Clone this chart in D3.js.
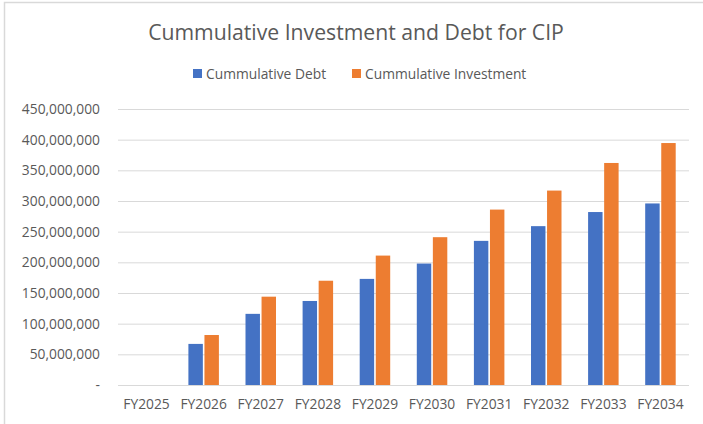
<!DOCTYPE html>
<html>
<head>
<meta charset="utf-8">
<script src="https://cdn.jsdelivr.net/npm/d3@7"></script>
<style>
  body { margin: 0; background: #fff; }
  text { font-family: "Open Sans", "Noto Sans", sans-serif; fill: #595959; }
</style>
</head>
<body>
<div id="container"></div>
<script>
const years = ["FY2025", "FY2026", "FY2027", "FY2028", "FY2029", "FY2030", "FY2031", "FY2032", "FY2033", "FY2034"];
const debt = [0, 67000000, 116000000, 137000000, 173000000, 198000000, 235000000, 259000000, 282000000, 296000000];
const investment = [0, 81500000, 144000000, 170000000, 211000000, 241000000, 286000000, 317000000, 362000000, 394500000];
const seriesNames = ["Cummulative Debt", "Cummulative Investment"];
const colors = ["#4472c4", "#ed7d31"];
const yTicks = [0, 50000000, 100000000, 150000000, 200000000, 250000000, 300000000, 350000000, 400000000, 450000000];

const W = 703, H = 424;
const plotLeft = 118, plotRight = 689, plotTop = 109, plotBottom = 385;

const svg = d3.select("#container").append("svg")
  .attr("width", W)
  .attr("height", H);

// chart border
svg.append("rect")
  .attr("x", 4.5).attr("y", 2.5)
  .attr("width", W + 10).attr("height", H + 10)
  .attr("fill", "none")
  .attr("stroke", "#d9d9d9")
  .attr("stroke-width", 1.5);

svg.append("text")
  .attr("x", 356).attr("y", 39.5)
  .attr("text-anchor", "middle")
  .style("font-size", "21.2px")
  .text("Cummulative Investment and Debt for CIP");

const x = d3.scaleBand().domain(years).range([plotLeft, plotRight]);
const x1 = d3.scaleBand().domain([0, 1]).range([0, 30.5]).paddingInner(0.1);
const y = d3.scaleLinear().domain([0, 450000000]).range([plotBottom, plotTop]);

// grid
svg.append("g")
  .attr("transform", `translate(${plotLeft},0)`)
  .call(d3.axisLeft(y).tickValues(yTicks).tickSize(-(plotRight - plotLeft)).tickFormat(""))
  .call(g => g.select(".domain").remove())
  .call(g => g.selectAll("line").attr("stroke", "#d9d9d9").attr("stroke-width", 1));

// y labels
svg.append("g")
  .attr("transform", `translate(${plotLeft - 18},0)`)
  .call(d3.axisLeft(y).tickValues(yTicks).tickSize(0).tickPadding(0)
    .tickFormat(d => d === 0 ? "-" : d3.format(",")(d)))
  .call(g => g.select(".domain").remove())
  .call(g => g.selectAll("text").style("font-size", "13.8px").attr("fill", "#595959"));

// x labels
svg.append("g")
  .attr("transform", `translate(0,${plotBottom})`)
  .call(d3.axisBottom(x).tickSize(0))
  .call(g => g.select(".domain").remove())
  .call(g => g.selectAll("text").style("font-size", "13.8px").attr("fill", "#595959").attr("dy", "1.55em"));

const groups = svg.append("g").selectAll("g")
  .data(years)
  .enter().append("g")
  .attr("transform", d => `translate(${x(d) + x.bandwidth() / 2 - 15.25},0)`);

[debt, investment].forEach((vals, s) => {
  groups.append("rect")
    .attr("x", x1(s))
    .attr("width", x1.bandwidth())
    .attr("y", (d, i) => y(vals[i]))
    .attr("height", (d, i) => plotBottom - y(vals[i]))
    .attr("fill", colors[s]);
});

// legend
const legendX = [193, 352];
const legend = svg.append("g");
seriesNames.forEach((name, i) => {
  legend.append("rect")
    .attr("x", legendX[i]).attr("y", 69)
    .attr("width", 9).attr("height", 9)
    .attr("fill", colors[i]);
  legend.append("text")
    .attr("x", legendX[i] + 13).attr("y", 78.5)
    .style("font-size", "13.8px")
    .text(name);
});
</script>
</body>
</html>
